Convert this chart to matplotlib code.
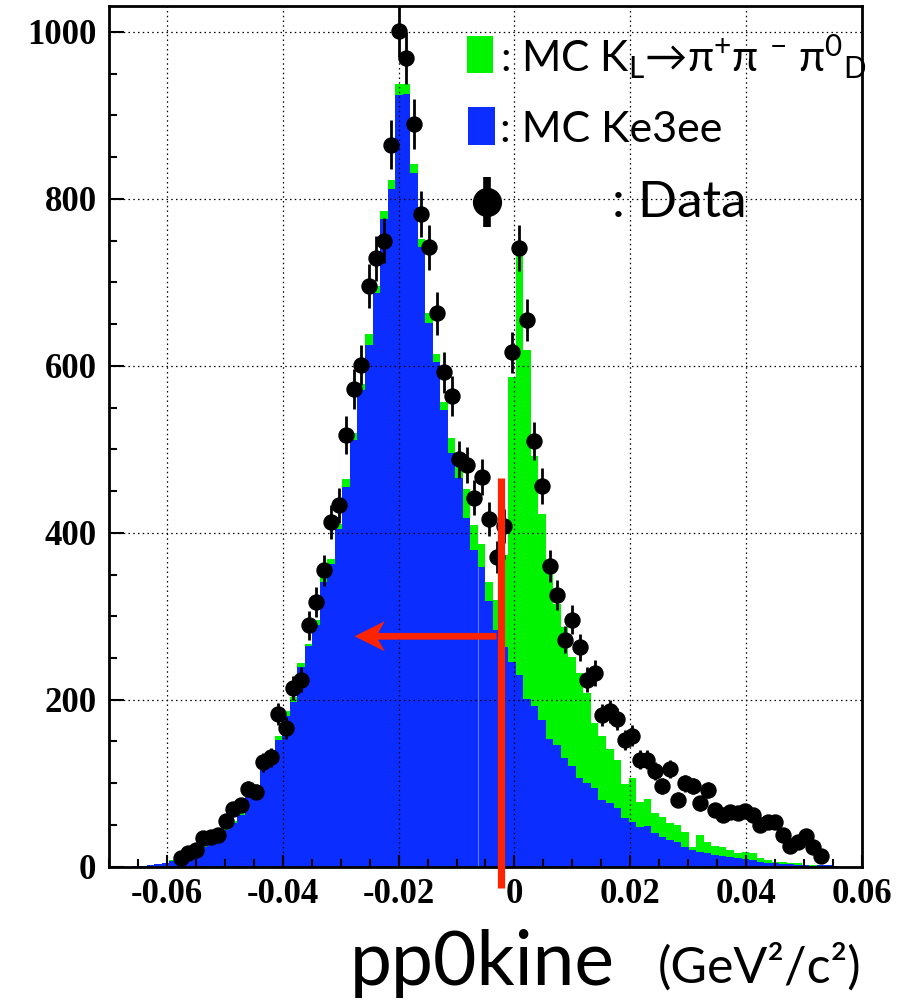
import numpy as np
import matplotlib
matplotlib.use("Agg")
import matplotlib.pyplot as plt
from matplotlib.lines import Line2D
from matplotlib.patches import Rectangle
from matplotlib.ticker import MultipleLocator

# histogram binning of pp0kine (GeV^2/c^2)
X_LO, X_HI, N_BINS = -0.07, 0.06, 100

# MC Ke3ee, per bin
KE3EE = [
    0, 0, 0, 1, 1, 2, 3, 5, 7, 9,
    13, 18, 24, 30, 36, 44, 52, 62, 86, 90,
    120, 122, 152, 180, 197, 239, 264, 290, 341, 362,
    404, 455, 511, 571, 625, 687, 776, 812, 924, 926,
    831, 742, 651, 604, 547, 496, 466, 418, 379, 359,
    318, 283, 263, 245, 230, 201, 192, 176, 153, 146,
    130, 121, 106, 100, 94, 80, 76, 70, 58, 54,
    47, 49, 40, 36, 32, 30, 24, 20, 18, 16,
    14, 13, 12, 10, 9, 8, 6, 5, 4, 3,
    3, 2, 2, 1, 2, 2, 1, 0, 0, 0,
]
# MC Ke3ee + MC KL -> pi+ pi- pi0_D (stacked sum)
MC_TOTAL = [
    0, 0, 0, 1, 1, 2, 3, 5, 8, 10,
    14, 19, 26, 32, 38, 47, 55, 66, 94, 98,
    126, 127, 157, 186, 203, 244, 267, 296, 347, 368,
    411, 464, 519, 578, 638, 695, 785, 822, 937, 938,
    842, 752, 663, 614, 557, 513, 479, 452, 409, 387,
    341, 319, 373, 586, 750, 619, 492, 423, 353, 315,
    287, 251, 232, 208, 172, 157, 141, 128, 99, 106,
    78, 81, 64, 60, 52, 50, 41, 24, 38, 30,
    25, 23, 20, 17, 18, 16, 11, 8, 6, 6,
    4, 4, 2, 2, 2, 2, 1, 0, 0, 0,
]
# data counts, starting at bin DATA_FIRST_BIN
DATA_FIRST_BIN = 9
DATA = [
    11, 16, 20, 34, 36, 38, 55, 69, 74, 93, 90,
    125, 131, 183, 166, 214, 224, 289, 317, 355, 413,
    433, 517, 572, 601, 696, 729, 750, 865, 1001, 969,
    890, 782, 742, 663, 592, 564, 488, 481, 442, 467,
    416, 371, 408, 616, 741, 655, 510, 456, 360, 325,
    272, 296, 263, 224, 232, 182, 186, 177, 152, 157,
    128, 128, 115, 97, 117, 80, 100, 97, 76, 92,
    68, 62, 65, 64, 67, 62, 50, 54, 54, 38,
    25, 29, 37, 23, 13,
]

XTICKS = [-0.06, -0.04, -0.02, 0.0, 0.02, 0.04, 0.06]
XTICK_LABELS = ["-0.06", "-0.04", "-0.02", "0", "0.02", "0.04", "0.06"]
YTICKS = [0, 200, 400, 600, 800, 1000]
Y_TOP = 1031

# selection cut and the kept side
CUT_X = -0.0024
CUT_Y = (-26, 466)
ARROW_Y = 276
ARROW_X = (-0.0031, -0.0276)

GREEN = "#00f400"
BLUE = "#0c2dff"
RED = "#ff2400"

W, H = 909, 1005


def px(x, y):
    """pixel position (from top-left) -> figure fraction"""
    return x / W, 1 - y / H


plt.rcParams["mathtext.fontset"] = "custom"
plt.rcParams["mathtext.rm"] = "Lato"
plt.rcParams["mathtext.it"] = "Lato:italic"
plt.rcParams["mathtext.bf"] = "Lato:bold"
plt.rcParams["mathtext.fallback"] = "stixsans"

edges = np.linspace(X_LO, X_HI, N_BINS + 1)
centers = 0.5 * (edges[:-1] + edges[1:])

fig = plt.figure(figsize=(W / 100, H / 100), dpi=100)
x0, y0 = px(109, 866.7)
x1, y1 = px(862, 6)
ax = fig.add_axes([x0, y0, x1 - x0, y1 - y0])

ax.stairs(MC_TOTAL, edges, fill=True, color=GREEN, lw=0, zorder=1)
ax.stairs(KE3EE, edges, fill=True, color=BLUE, lw=0, zorder=1.2)
# faint edge line left inside the blue fill
ax.vlines(edges[49], 0, KE3EE[49], color="#5a7bff", lw=0.8, zorder=1.3)

counts = np.array(DATA, dtype=float)
dx = centers[DATA_FIRST_BIN:DATA_FIRST_BIN + len(DATA)]
ax.errorbar(dx, counts, yerr=np.sqrt(counts), fmt="o", color="black",
            ms=10.8, elinewidth=2.0, capsize=0, zorder=3)

ax.plot([CUT_X, CUT_X], CUT_Y, color=RED, lw=5.2, solid_capstyle="butt",
        clip_on=False, zorder=5)
ax.arrow(ARROW_X[0], ARROW_Y, ARROW_X[1] - ARROW_X[0], 0, width=8,
         head_width=36, head_length=0.0052, length_includes_head=True,
         overhang=0.22, color=RED, lw=0, zorder=5)

ax.set_xlim(X_LO, X_HI)
ax.set_ylim(0, Y_TOP)
ax.set_xticks(XTICKS)
ax.set_xticklabels(XTICK_LABELS)
ax.set_yticks(YTICKS)
ax.xaxis.set_minor_locator(MultipleLocator(0.005))
ax.yaxis.set_minor_locator(MultipleLocator(50))
ax.tick_params(axis="both", which="both", direction="in", top=False, right=False,
               width=1.5, labelsize=25)
ax.tick_params(axis="x", which="major", length=9, pad=8)
ax.tick_params(axis="x", which="minor", length=5.5)
ax.tick_params(axis="y", which="major", length=11, pad=9)
ax.tick_params(axis="y", which="minor", length=5.5)
for lab in ax.get_xticklabels() + ax.get_yticklabels():
    lab.set_fontfamily("Liberation Serif")
    lab.set_fontweight("bold")
for sp in ax.spines.values():
    sp.set_linewidth(2)
ax.set_axisbelow(False)
ax.grid(True, which="major", color="black", lw=0.9, ls=(0, (1.2, 2.6)))

# legend
fig.add_artist(Rectangle(px(466.7, 73.3), 26.6 / W, 37.3 / H,
                         transform=fig.transFigure, color=GREEN, lw=0))
fig.add_artist(Rectangle(px(468.3, 145), 26.7 / W, 37.7 / H,
                         transform=fig.transFigure, color=BLUE, lw=0))
bx, by0 = px(487, 176.7)
_, by1 = px(487, 226.7)
fig.add_artist(Line2D([bx, bx], [by0, by1], transform=fig.transFigure,
                      color="black", lw=5.5, solid_capstyle="butt"))
fig.add_artist(Line2D([bx], [px(487, 201.7)[1]], transform=fig.transFigure,
                      marker="o", ms=20, color="black"))

fig.text(*px(500, 71.7),
         r": MC K$_\mathrm{L}$→π$^{+}$π $^{-}$ π$^{0}$$_\mathrm{D}$",
         family="Lato", fontsize=30.5, va="baseline", ha="left")
fig.text(*px(500, 141.7), ": MC Ke3ee", family="Lato", fontsize=31,
         va="baseline", ha="left")
fig.text(*px(612, 216.7), ": Data", family="Lato", fontsize=37,
         va="baseline", ha="left")

# axis title
fig.text(*px(482, 985), "pp0kine", family="Lato", fontsize=54,
         ha="center", va="baseline")
fig.text(*px(658, 983), "(GeV²/c²)", family="Lato", fontsize=36,
         ha="left", va="baseline")

fig.savefig("out.png", dpi=100)
